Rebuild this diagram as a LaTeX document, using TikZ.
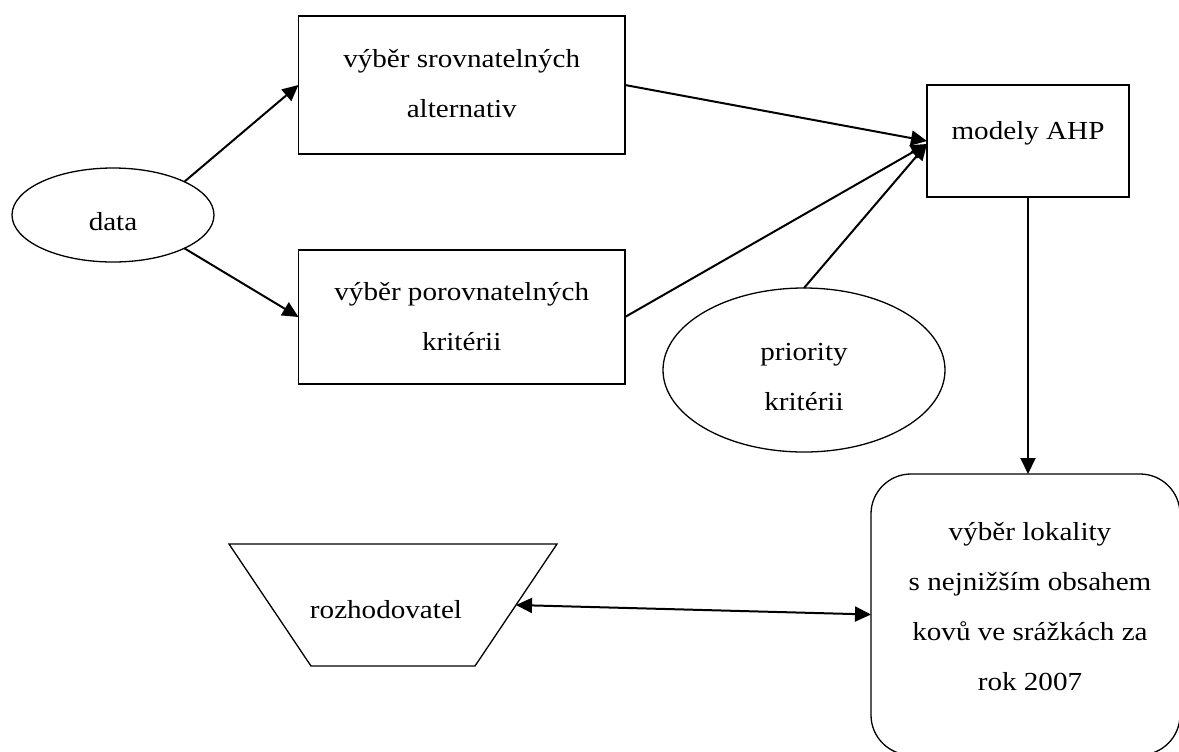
\documentclass[tikz,border=0pt]{standalone}
\usepackage{fontspec}
\setmainfont{Liberation Serif}[FakeStretch=1.12]
\usetikzlibrary{shapes.geometric,arrows.meta,calc}
\begin{document}
\begin{tikzpicture}[x=0.5pt,y=-0.5pt,
  every node/.style={font=\fontsize{13pt}{25pt}\selectfont, inner sep=0pt, outer sep=0pt},
  boxshape/.style={draw, line width=0.65pt, rectangle},
  ovalshape/.style={draw, line width=0.65pt, ellipse},
  lbl/.style={align=center},
  conn/.style={line width=1pt, -{Triangle[length=8pt,width=7.5pt]}},
  both/.style={line width=1pt, {Triangle[length=8pt,width=7.5pt]}-{Triangle[length=8pt,width=7.5pt]}},
]
\clip (0,0) rectangle (1179,751);
\fill[white] (0,0) rectangle (1179,751);

% input data
\node[ovalshape, minimum width=101pt, minimum height=47pt] (data) at (113,215) {};
\node[lbl] (datatext) at (113,222) {data};

% selection of alternatives and criteria
\node[boxshape, minimum width=163.25pt, minimum height=69pt] (r1) at (461.75,85) {};
\node[lbl] (r1text) at (461.75,84) {výběr srovnatelných\\alternativ};
\node[boxshape, minimum width=163.25pt, minimum height=67pt] (r2) at (461.75,317) {};
\node[lbl] (r2text) at (461.75,317) {výběr porovnatelných\\kritérii};

% AHP model
\node[boxshape, minimum width=101pt, minimum height=56pt] (ahp) at (1028,141) {};
\node[lbl] (ahptext) at (1028,133) {modely AHP};

% criteria priorities
\node[ovalshape, minimum width=141pt, minimum height=82pt] (prio) at (804,370) {};
\node[lbl] (priotext) at (804,377) {priority\\kritérii};

% result
\node[boxshape, rounded corners=20pt, minimum width=154.5pt, minimum height=140.5pt] (rr) at (1025.5,614.5) {};
\node[lbl] (rrtext) at (1030,607) {výběr lokality\\s nejnižším obsahem\\kovů ve srážkách za\\rok 2007};

% decision maker (inverted trapezoid)
\coordinate (tA) at (229,544);
\coordinate (tB) at (557,544);
\coordinate (tC) at (475,666);
\coordinate (tD) at (311,666);
\draw[line width=0.65pt] (tA) -- (tB) -- (tC) -- (tD) -- cycle;
\coordinate (dmedge) at ($(tB)!0.5!(tC)$);
\node[lbl] (dm) at (386,610) {rozhodovatel};

% connectors
\draw[conn] (data.25) -- (r1.west);
\draw[conn] (data.-25) -- (r2.west);
\draw[conn] (r1.east) -- (ahp.west);
\draw[conn] (r2.east) -- ($(ahp.west)+(0,3)$);
\draw[conn] (prio.north) -- ($(ahp.west)+(0,3)$);
\draw[conn] (ahp.south) -- (ahp.south |- rr.north);
\draw[both] (dmedge) -- (rr.west);
\end{tikzpicture}
\end{document}
